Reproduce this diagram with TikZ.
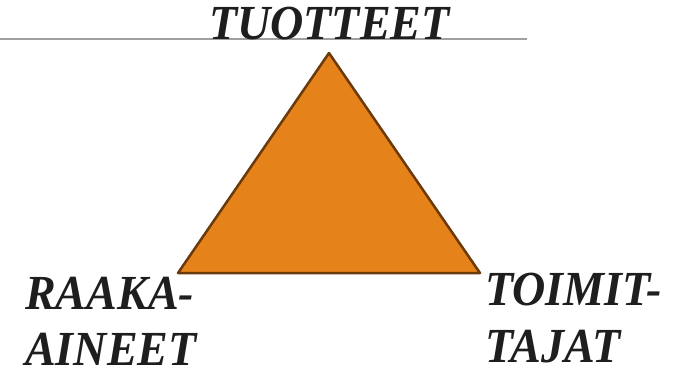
\documentclass[tikz,border=0pt]{standalone}
\usepackage{fontspec}
\setmainfont{Liberation Serif}
\newfontfamily\lblfont[FakeStretch=0.94]{Liberation Serif}
\definecolor{triorange}{HTML}{E6821A}
\definecolor{tribrown}{HTML}{6B3A0A}
\definecolor{rulegray}{HTML}{A0A0A0}
\definecolor{txtdark}{HTML}{1E1E1E}
\begin{document}
\begin{tikzpicture}[x=1pt,y=-1pt,
  lbl/.style={inner sep=0pt,anchor=base west,text=txtdark,
    font=\lblfont\fontsize{49}{57}\selectfont\bfseries\itshape}]
\useasboundingbox (0,0) rectangle (674,366);
\coordinate (ruleL) at (0,39);
\coordinate (ruleR) at (527,39);
\draw[rulegray,line width=1.5pt] (ruleL) -- (ruleR);
\coordinate (apex) at (329,53);
\coordinate (bl) at (178,273);
\coordinate (br) at (480,273);
\draw[tribrown,fill=triorange,line width=2.5pt,line join=round] (apex) -- (bl) -- (br) -- cycle;
\node[lbl] (top) at (209,40) {TUOTTEET};
\node[lbl] (raakaA) at (25,309) {RAAKA-};
\node[lbl] (raakaB) at (25,365) {AINEET};
\node[lbl] (toimA) at (485,305) {TOIMIT-};
\node[lbl] (toimB) at (485,362) {TAJAT};
\end{tikzpicture}
\end{document}
